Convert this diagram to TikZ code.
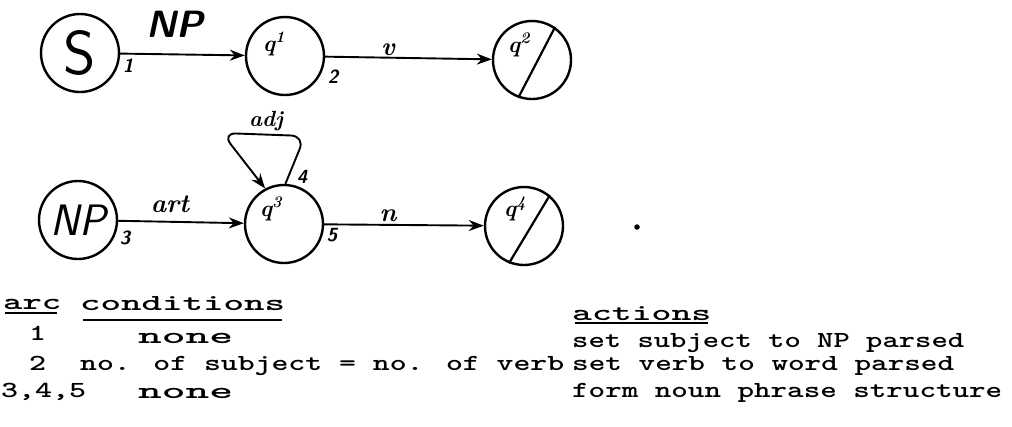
\documentclass[tikz,border=0pt]{standalone}
\usepackage{fontspec}
\usepackage{graphicx}
\usetikzlibrary{arrows.meta}
\newcommand{\tx}[2]{\resizebox{#1pt}{\height}{\ttfamily\bfseries\fontsize{23}{23}\selectfont\addfontfeatures{FakeBold=1.5}#2}}
\begin{document}
\begin{tikzpicture}[x=1pt,y=-1pt,
  st/.style={circle,draw,line width=2.4pt,minimum size=78pt,inner sep=0pt},
  ed/.style={line width=1.9pt,-{Stealth[length=15pt,width=11pt]}},
  hw/.style={font=\sffamily\itshape\bfseries\fontsize{#1}{#1}\selectfont,inner sep=0pt},
  hr/.style={font=\rmfamily\itshape\bfseries\fontsize{#1}{#1}\selectfont,inner sep=0pt},
  tt/.style={anchor=base west,inner sep=0pt},
  ul/.style={line width=1.8pt}]
\useasboundingbox (0,0) rectangle (1012,426);
% states
\node[st,font=\sffamily\fontsize{62}{62}\selectfont] (S) at (80,53) {S};
\node[st] (q1) at (285,56) {};
\node[st] (q2) at (532,60) {};
\node[st,font=\sffamily\itshape\fontsize{44}{44}\selectfont] (NP) at (78,220) {NP};
\node[st] (q3) at (284,224) {};
\node[st] (q4) at (524,226) {};
% state labels
\node[hr=23] (l1) at (274,44) {q\textsuperscript{1}};
\node[hr=23] (l2) at (519,45) {q\textsuperscript{2}};
\node[hr=23] (l3) at (271,209) {q\textsuperscript{3}};
\node[hr=23] (l4) at (515,209) {q\textsuperscript{4}};
% final-state slashes
\draw[line width=2.2pt] (q2.55) -- (q2.250);
\draw[line width=2.2pt] (q4.50) -- (q4.248);
% arcs
\draw[ed] (S) -- (q1);
\draw[ed] (q1) -- (q2);
\draw[ed] (NP) -- (q3);
\draw[ed] (q3) -- (q4);
\draw[ed,rounded corners=14pt] (q3.88) -- (305,136) -- (222,133) -- (q3.118);
% arc labels
\node[hw=38] (lNP) at (175,24) {NP};
\node[hr=26] (lv) at (388,50) {v};
\node[hr=26] (lart) at (170,204) {art};
\node[hr=22] (ladj) at (266,121) {adj};
\node[hr=26] (ln) at (388,216) {n};
% arc numbers
\node[hw=19] (n1) at (128,66) {1};
\node[hw=19] (n2) at (333,77) {2};
\node[hw=19] (n3) at (125,238) {3};
\node[hw=19] (n4) at (302,177) {4};
\node[hw=19] (n5) at (332,235) {5};
% dot
\node[circle,fill,inner sep=0pt,minimum size=5.5pt] (dot) at (637,227) {};
% table
\node[tt] (arc) at (3,309) {\tx{58}{arc}};
\draw[ul] (5,313) -- (57,313);
\node[tt] (cond) at (80,310) {\tx{205}{conditions}};
\draw[ul] (83,320) -- (282,320);
\node[anchor=base,inner sep=0pt] (r1) at (37.5,340) {\tx{17}{1}};
\node[tt] (c1) at (138,343) {\tx{95}{none}};
\node[anchor=base,inner sep=0pt] (r2) at (37.5,370) {\tx{17}{2}};
\node[tt] (c2) at (80,370) {\tx{484}{no. of subject = no. of verb}};
\node[tt] (r3) at (1,397) {\tx{85}{3,4,5}};
\node[tt] (c3) at (138,398) {\tx{95}{none}};
\node[tt] (act) at (572,320) {\tx{139}{actions}};
\draw[ul] (575,323) -- (708,323);
\node[tt] (ac1) at (572,347) {\tx{392}{set subject to NP parsed}};
\node[tt] (ac2) at (572,370) {\tx{382}{set verb to word parsed}};
\node[tt] (ac3) at (572,397) {\tx{430}{form noun phrase structure}};
\end{tikzpicture}
\end{document}
